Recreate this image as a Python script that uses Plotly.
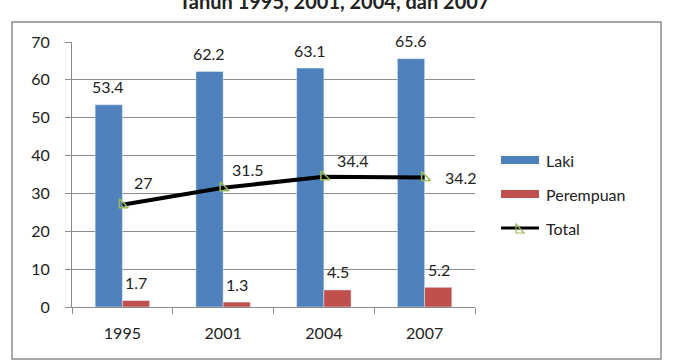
import plotly.graph_objects as go

years = ["1995", "2001", "2004", "2007"]
laki = [53.4, 62.2, 63.1, 65.6]
perempuan = [1.7, 1.3, 4.5, 5.2]
total = [27, 31.5, 34.4, 34.2]
y_ticks = [0, 10, 20, 30, 40, 50, 60, 70]

BLUE = "#4F81BD"
RED = "#C0504D"
GREEN = "#9BBB59"
FONT = "Lato"
FS = 16

fig = go.Figure()
fig.add_trace(go.Bar(x=years, y=laki, name="Laki", marker_color=BLUE, showlegend=False))
fig.add_trace(go.Bar(x=years, y=perempuan, name="Perempuan", marker_color=RED, showlegend=False))
fig.add_trace(go.Scatter(x=years, y=total, name="Total", mode="lines+markers",
                         line=dict(color="black", width=4),
                         marker=dict(symbol="triangle-sw-open", size=10,
                                     color=GREEN, line=dict(color=GREEN, width=1.5)),
                         showlegend=False))

ann = []
for i, v in enumerate(laki):
    ann.append(dict(x=i, y=v, text=f"{v}", showarrow=False, xshift=-14, yshift=18,
                    font=dict(family=FONT, size=FS, color="#222")))
for i, v in enumerate(perempuan):
    ann.append(dict(x=i, y=v, text=f"{v}", showarrow=False, xshift=14, yshift=18,
                    font=dict(family=FONT, size=FS, color="#222")))
tot_shift = [(21, 22), (25, 18), (29, 16), (36, 0)]
for i, (v, (dx, dy)) in enumerate(zip(total, tot_shift)):
    ann.append(dict(x=i, y=v, text=f"{v:g}", showarrow=False, xshift=dx, yshift=dy,
                    font=dict(family=FONT, size=FS, color="#222")))


def px_x(p):
    return (p - 72) / 403


def px_y(p):
    return (307 - p) / 265


# title (top partially cut off in the reference)
ann.append(dict(xref="paper", yref="paper", x=px_x(334), y=px_y(1),
                text="<b>Tahun 1995, 2001, 2004, dan 2007</b>", showarrow=False,
                xanchor="center", yanchor="middle",
                font=dict(family="Lato", size=20, color="#222")))

# custom legend
legend_items = [("Laki", BLUE, 160), ("Perempuan", RED, 194), ("Total", None, 228)]
shapes = []
for name, col, yy in legend_items:
    if col:
        shapes.append(dict(type="rect", xref="paper", yref="paper",
                           x0=px_x(501), x1=px_x(539), y0=px_y(yy + 4), y1=px_y(yy - 4),
                           fillcolor=col, line=dict(width=0)))
    else:
        shapes.append(dict(type="line", xref="paper", yref="paper",
                           x0=px_x(501), x1=px_x(539), y0=px_y(yy), y1=px_y(yy),
                           line=dict(color="black", width=3)))
        shapes.append(dict(type="path", xref="paper", yref="paper",
                           path=f"M {px_x(516)} {px_y(224)} L {px_x(516)} {px_y(233)} L {px_x(524)} {px_y(233)} Z",
                           line=dict(color=GREEN, width=1.2)))
    ann.append(dict(xref="paper", yref="paper", x=px_x(544), y=px_y(yy), text=name,
                    showarrow=False, xanchor="left", yanchor="middle",
                    font=dict(family=FONT, size=FS, color="#222")))

# outer border
shapes.append(dict(type="rect", xref="paper", yref="paper",
                   x0=px_x(12), x1=px_x(661), y0=px_y(359), y1=px_y(22),
                   line=dict(color="#8C8C8C", width=1.5), fillcolor="rgba(0,0,0,0)"))

fig.update_layout(
    width=678, height=364,
    margin=dict(l=72, r=203, t=42, b=57),
    paper_bgcolor="white", plot_bgcolor="white",
    barmode="group", bargap=0.46, bargroupgap=0,
    annotations=ann, shapes=shapes,
    xaxis=dict(type="category", range=[-0.5, len(years) - 0.5], showline=True,
               linecolor="#8C8C8C", linewidth=1,
               ticks="outside", tickson="boundaries", ticklen=6, tickcolor="#8C8C8C",
               tickfont=dict(family=FONT, size=FS, color="#222"), ticklabelstandoff=12,
               showgrid=False),
    yaxis=dict(range=[0, 70], tickvals=y_ticks, showline=True, linecolor="#8C8C8C",
               linewidth=1, ticks="outside", ticklen=6, tickcolor="#8C8C8C",
               gridcolor="#8C8C8C", gridwidth=1, zeroline=False,
               tickfont=dict(family=FONT, size=FS, color="#222"), ticklabelstandoff=12),
)

fig.write_html("out.html")
